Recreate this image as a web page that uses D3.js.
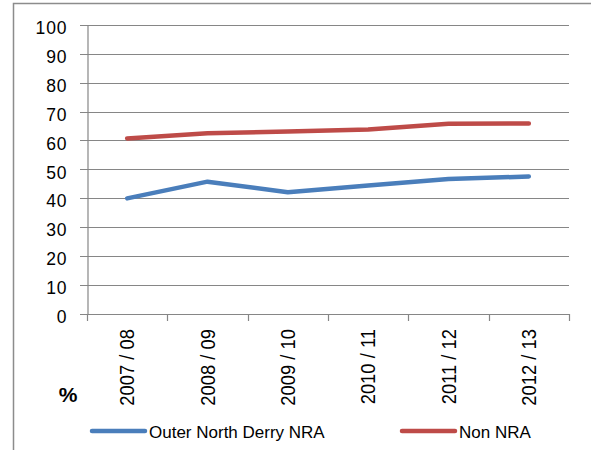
<!DOCTYPE html>
<html><head><meta charset="utf-8">
<script src="https://cdn.jsdelivr.net/npm/d3@7"></script>
<style>
html,body{margin:0;padding:0;background:#fff;}
svg{display:block;}
text{font-family:"Liberation Sans",Arial,sans-serif;fill:#000;}
</style></head>
<body>
<svg id="c" width="591" height="450"></svg>
<script>
const categories = ["2007 / 08","2008 / 09","2009 / 10","2010 / 11","2011 / 12","2012 / 13"];
const outerNorthDerry = [39.9, 45.7, 42.0, 44.4, 46.6, 47.5];
const nonNRA = [60.7, 62.5, 63.1, 63.8, 65.8, 65.9];
const yTicks = [0,10,20,30,40,50,60,70,80,90,100];
const seriesNames = ["Outer North Derry NRA","Non NRA"];
const seriesColors = ["#4A7EBB","#BE4B48"];
const yLabel = "%";

(function(){
const svg = d3.select("#c");
const pLeft = 87, pRight = 569, pTop = 25, pBottom = 313.5;
const gridColor = "#868686";

// outer frame
svg.append("path").attr("d","M13.5,460 V3.5 H600")
  .attr("fill","none").attr("stroke","#8c8c8c").attr("stroke-width",1.5);

const x = d3.scalePoint().domain(categories).range([pLeft,pRight]).padding(0.5);
const y = d3.scaleLinear().domain([0,100]).range([pBottom,pTop]);
const step = x.step();

// gridlines
svg.append("g").selectAll("line").data(yTicks).join("line")
  .attr("x1",pLeft-7).attr("x2",pRight)
  .attr("y1",d=>Math.round(y(d))+0.5).attr("y2",d=>Math.round(y(d))+0.5)
  .attr("stroke",gridColor).attr("stroke-width",1.2);

// y axis
const yAxis = d3.axisLeft(y).tickValues(yTicks).tickSize(0).tickPadding(20);
const gy = svg.append("g").attr("transform",`translate(${pLeft+0.5},0)`).call(yAxis);
gy.select(".domain").attr("stroke",gridColor).attr("stroke-width",1.2);
gy.selectAll("text").attr("font-size","17.5px").attr("letter-spacing","0.9px")
  .attr("font-family","'Liberation Sans',Arial,sans-serif").attr("dy","0.5em").attr("fill","#000");

// x axis line and ticks at category boundaries
const boundaries = categories.map(c=>x(c)-step/2).concat([x(categories[categories.length-1])+step/2]);
svg.append("line").attr("x1",pLeft).attr("x2",pRight)
  .attr("y1",Math.round(y(0))+0.5).attr("y2",Math.round(y(0))+0.5)
  .attr("stroke",gridColor).attr("stroke-width",1.2);
svg.append("g").selectAll("line").data(boundaries).join("line")
  .attr("x1",d=>Math.round(d)+0.5).attr("x2",d=>Math.round(d)+0.5)
  .attr("y1",Math.round(y(0))).attr("y2",Math.round(y(0))+7)
  .attr("stroke",gridColor).attr("stroke-width",1.2);

// x labels rotated
svg.append("g").selectAll("text").data(categories).join("text")
  .attr("transform",d=>`translate(${x(d)+7},329) rotate(-90) scale(0.92,1)`)
  .attr("text-anchor","end").attr("font-size","20px").text(d=>d);

// % label
svg.append("text").attr("x",68).attr("y",402).attr("text-anchor","middle")
  .attr("font-size","21px").attr("font-weight","bold").text(yLabel);

// lines
const line = d3.line().x((d,i)=>x(categories[i])).y(d=>y(d));
[outerNorthDerry, nonNRA].forEach((s,k)=>{
  svg.append("path").datum(s).attr("d",line).attr("fill","none")
    .attr("stroke",seriesColors[k]).attr("stroke-width",4.5)
    .attr("stroke-linecap","round").attr("stroke-linejoin","round");
});

// legend
const legendX = [90, 400];
const lg = svg.append("g");
seriesNames.forEach((n,k)=>{
  lg.append("line").attr("x1",legendX[k]+2).attr("x2",legendX[k]+55)
    .attr("y1",431).attr("y2",431).attr("stroke",seriesColors[k])
    .attr("stroke-width",4.5).attr("stroke-linecap","round");
  lg.append("text").attr("x",legendX[k]+59).attr("y",437.5)
    .attr("font-size","17px").text(n);
});
})();
</script>
</body></html>
